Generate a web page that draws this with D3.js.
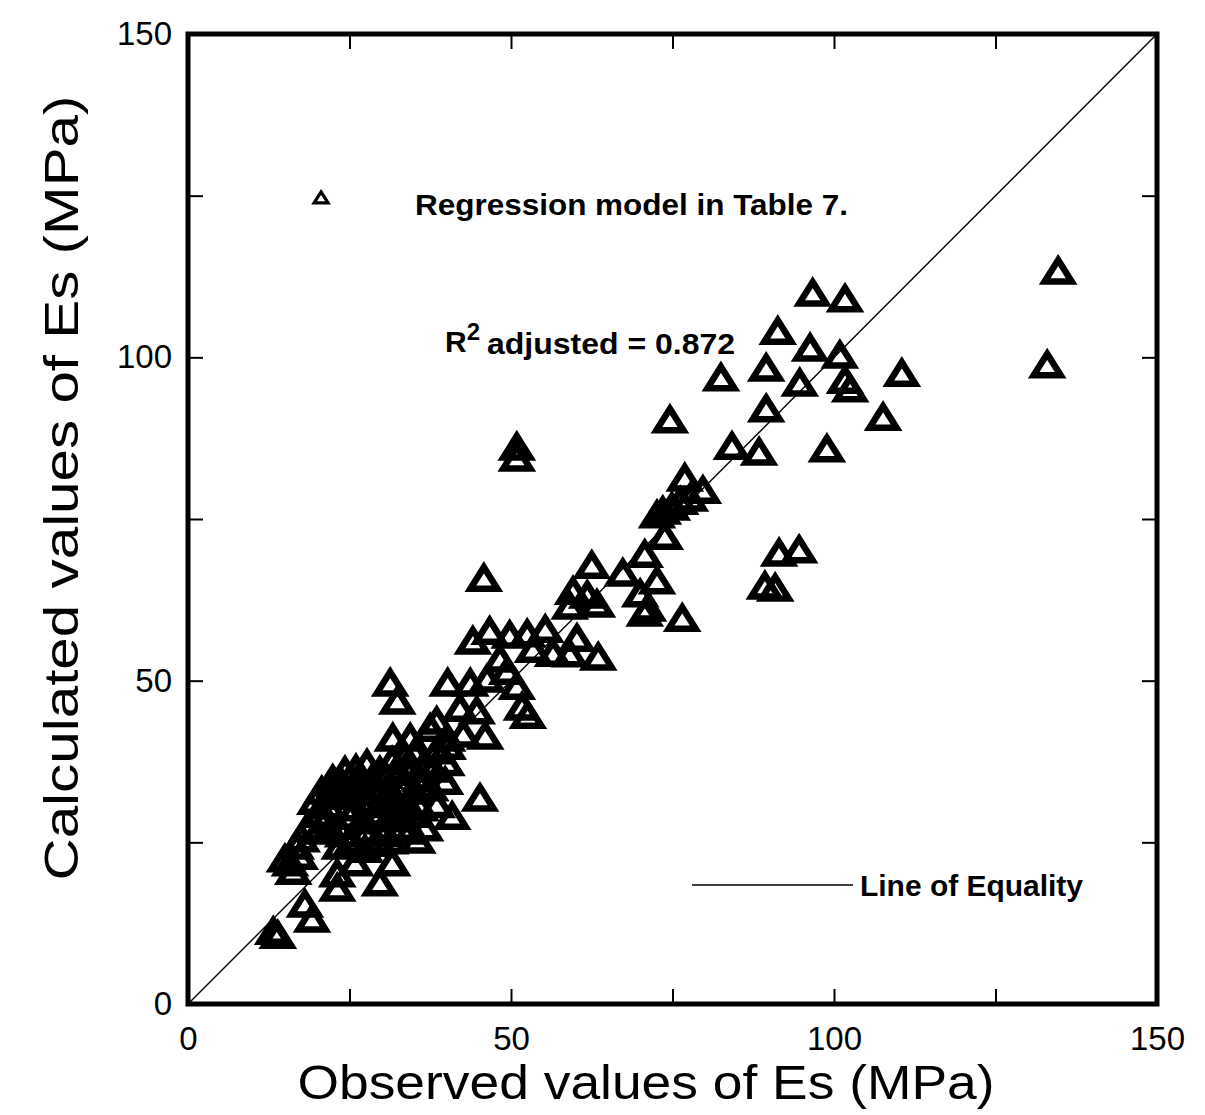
<!DOCTYPE html>
<html><head><meta charset="utf-8">
<script src="https://cdn.jsdelivr.net/npm/d3@7"></script>
<style>body{margin:0;background:#fff}svg{display:block}</style>
</head><body><svg id="c" width="1205" height="1115"></svg>
<script>
// Observed Es (MPa)
const observed = [134.7,133.0,96.7,101.7,91.3,96.3,100.9,82.5,89.5,94.7,101.7,102.5,110.5,89.5,74.6,107.6,84.2,88.4,98.9,50.9,50.9,
76.9,79.7,77.7,76.2,74.9,73.5,72.6,73.8,70.7,91.5,94.6,89.3,90.9,
45.8,62.5,67.3,72.6,70.0,71.2,70.7,76.5,59.6,61.8,59.1,63.3,55.3,60.2,59.1,63.5,53.4,56.5,
44.1,46.7,49.8,52.5,49.4,50.9,51.7,52.6,40.2,43.7,46.3,31.3,32.4,38.5,42.1,44.7,46.0,31.7,34.4,37.5,40.1,42.6,45.2,40.9,48.3,
20.7,22.4,24.3,26.0,27.7,29.7,31.6,33.6,35.1,36.7,38.5,40.2,
19.7,21.7,23.5,25.4,27.4,29.4,31.3,33.1,35.1,37.5,39.8,
21.2,23.2,25.1,26.9,28.9,31.0,32.8,34.8,36.7,34.4,
16.7,17.3,23.5,25.4,27.4,29.4,31.3,31.6,16.3,15.8,23.1,29.7,20.1,18.1,19.2,13.2,13.9,25.9,23.1,15.0,17.6,
18.5,20.0,22.0,24.0,26.5,28.5,30.5,32.5,34.5,36.0,38.0,40.0,26.0,28.0,30.0,32.0,34.0,36.0,24.0,27.5,30.0,33.0,38.5,35.5];
// Calculated Es (MPa), same order
const calculated = [113.5,99.0,110.1,109.2,104.2,101.6,100.5,97.0,98.5,96.2,96.6,95.3,97.7,92.2,90.5,90.9,86.4,85.5,86.0,86.3,84.6,
81.5,79.6,78.4,77.9,77.0,76.4,75.8,72.5,69.7,69.9,70.4,64.8,64.5,
66.0,68.0,66.8,65.6,63.6,61.4,60.6,59.8,64.0,63.4,61.7,62.0,58.1,56.7,54.3,53.8,55.0,54.4,
56.3,57.8,57.2,57.4,51.6,49.3,46.1,44.8,49.8,49.8,50.4,49.8,47.0,43.9,45.9,45.5,41.6,41.3,41.3,42.8,41.3,41.9,32.0,29.2,53.5,
33.1,34.9,36.2,36.5,37.3,36.2,37.7,38.5,39.0,37.4,39.3,40.0,
31.5,30.8,32.3,33.1,32.8,33.9,33.1,33.9,33.1,33.6,34.6,
28.5,27.7,29.2,28.5,29.7,28.8,30.0,29.5,27.4,26.9,
24.6,23.0,24.6,25.4,24.1,25.0,25.4,22.0,20.7,22.0,20.3,18.9,26.9,15.6,13.3,11.4,10.8,22.0,18.1,22.6,25.7,
27.5,29.5,32.5,34.0,34.5,35.0,35.5,36.0,36.5,35.0,36.5,37.5,30.5,31.0,31.5,31.5,31.0,30.5,26.5,26.5,26.5,27.5,31.0,25.5];
const axisDomain = [0, 150];
const tickValues = [0, 25, 50, 75, 100, 125, 150];
const tickLabels = ["0", "", "50", "", "100", "", "150"];
const xTitle = "Observed values of Es (MPa)";
const yTitle = "Calculated values of Es (MPa)";
const legendSeries = "Regression model in Table 7.";
const legendLine = "Line of Equality";
const r2Text = "adjusted = 0.872";

const svg = d3.select("#c");
const FONT = "'Liberation Sans', Arial, Helvetica, sans-serif";
const x = d3.scaleLinear().domain(axisDomain).range([188, 1157]);
const y = d3.scaleLinear().domain(axisDomain).range([1004, 34]);
const fmt = v => tickLabels[tickValues.indexOf(v)];

// line of equality
svg.append("line")
  .attr("x1", x(0)).attr("y1", y(0)).attr("x2", x(150)).attr("y2", y(150))
  .attr("stroke", "#000").attr("stroke-width", 1.4);

// axes with inward ticks
function styleAxis(g, labels) {
  g.select(".domain").remove();
  g.selectAll(".tick line").attr("stroke", "#000").attr("stroke-width", 2);
  g.selectAll(".tick text").attr("font-family", FONT).attr("font-size", 33).attr("fill", "#000");
  if (!labels) g.selectAll(".tick text").remove();
}
svg.append("g").attr("transform", `translate(0,${y(0)})`)
  .call(d3.axisBottom(x).tickValues(tickValues).tickSizeInner(-15).tickSizeOuter(0).tickPadding(23).tickFormat(fmt))
  .call(g => styleAxis(g, true));
svg.append("g").attr("transform", `translate(0,${y(150)})`)
  .call(d3.axisTop(x).tickValues(tickValues).tickSizeInner(-15).tickSizeOuter(0).tickFormat(fmt))
  .call(g => styleAxis(g, false));
svg.append("g").attr("transform", `translate(${x(0)},0)`)
  .call(d3.axisLeft(y).tickValues(tickValues).tickSizeInner(-15).tickSizeOuter(0).tickPadding(16).tickFormat(fmt))
  .call(g => styleAxis(g, true));
svg.append("g").attr("transform", `translate(${x(150)},0)`)
  .call(d3.axisRight(y).tickValues(tickValues).tickSizeInner(-15).tickSizeOuter(0).tickFormat(fmt))
  .call(g => styleAxis(g, false));

// frame
svg.append("rect").attr("x", x(0)).attr("y", y(150))
  .attr("width", x(150) - x(0)).attr("height", y(0) - y(150))
  .attr("fill", "none").attr("stroke", "#000").attr("stroke-width", 5);

// triangle marker
const tri = "M0,-10L13.5,11.5L-13.5,11.5Z";
svg.append("g").selectAll("path").data(observed.map((v, i) => [v, calculated[i]]))
  .join("path")
  .attr("d", tri)
  .attr("transform", d => `translate(${x(d[0])},${y(d[1])})`)
  .attr("fill", "none").attr("stroke", "#000").attr("stroke-width", 6.5).attr("stroke-linejoin", "miter");

// legend: series
svg.append("path").attr("d", "M0,-5L7,6L-7,6Z")
  .attr("transform", `translate(${x(20.6)},${y(124.8)})`)
  .attr("fill", "none").attr("stroke", "#000").attr("stroke-width", 3.2);
svg.append("text").attr("x", 415).attr("y", 215)
  .attr("font-family", FONT).attr("font-weight", "bold").attr("font-size", 30)
  .attr("textLength", 433).attr("lengthAdjust", "spacingAndGlyphs").text(legendSeries);

// R^2
const r2 = svg.append("text").attr("x", 445).attr("y", 352)
  .attr("font-family", FONT).attr("font-weight", "bold").attr("font-size", 30);
r2.append("tspan").text("R");
r2.append("tspan").attr("dy", -12).attr("font-size", 24).text("2");
svg.append("text").attr("x", 487).attr("y", 354)
  .attr("font-family", FONT).attr("font-weight", "bold").attr("font-size", 30)
  .attr("textLength", 248).attr("lengthAdjust", "spacingAndGlyphs").text(r2Text);

// legend: line of equality
svg.append("line").attr("x1", 692).attr("x2", 853).attr("y1", 885).attr("y2", 885)
  .attr("stroke", "#000").attr("stroke-width", 1.5);
svg.append("text").attr("x", 860).attr("y", 896)
  .attr("font-family", FONT).attr("font-weight", "bold").attr("font-size", 29)
  .attr("textLength", 223).attr("lengthAdjust", "spacingAndGlyphs").text(legendLine);

// axis titles
svg.append("text").attr("x", 646).attr("y", 1099).attr("text-anchor", "middle")
  .attr("font-family", FONT).attr("font-size", 48)
  .attr("textLength", 697).attr("lengthAdjust", "spacingAndGlyphs").text(xTitle);
svg.append("text").attr("transform", "translate(78,488) rotate(-90)").attr("text-anchor", "middle")
  .attr("font-family", FONT).attr("font-size", 48)
  .attr("textLength", 785).attr("lengthAdjust", "spacingAndGlyphs").text(yTitle);
</script>
</body></html>
